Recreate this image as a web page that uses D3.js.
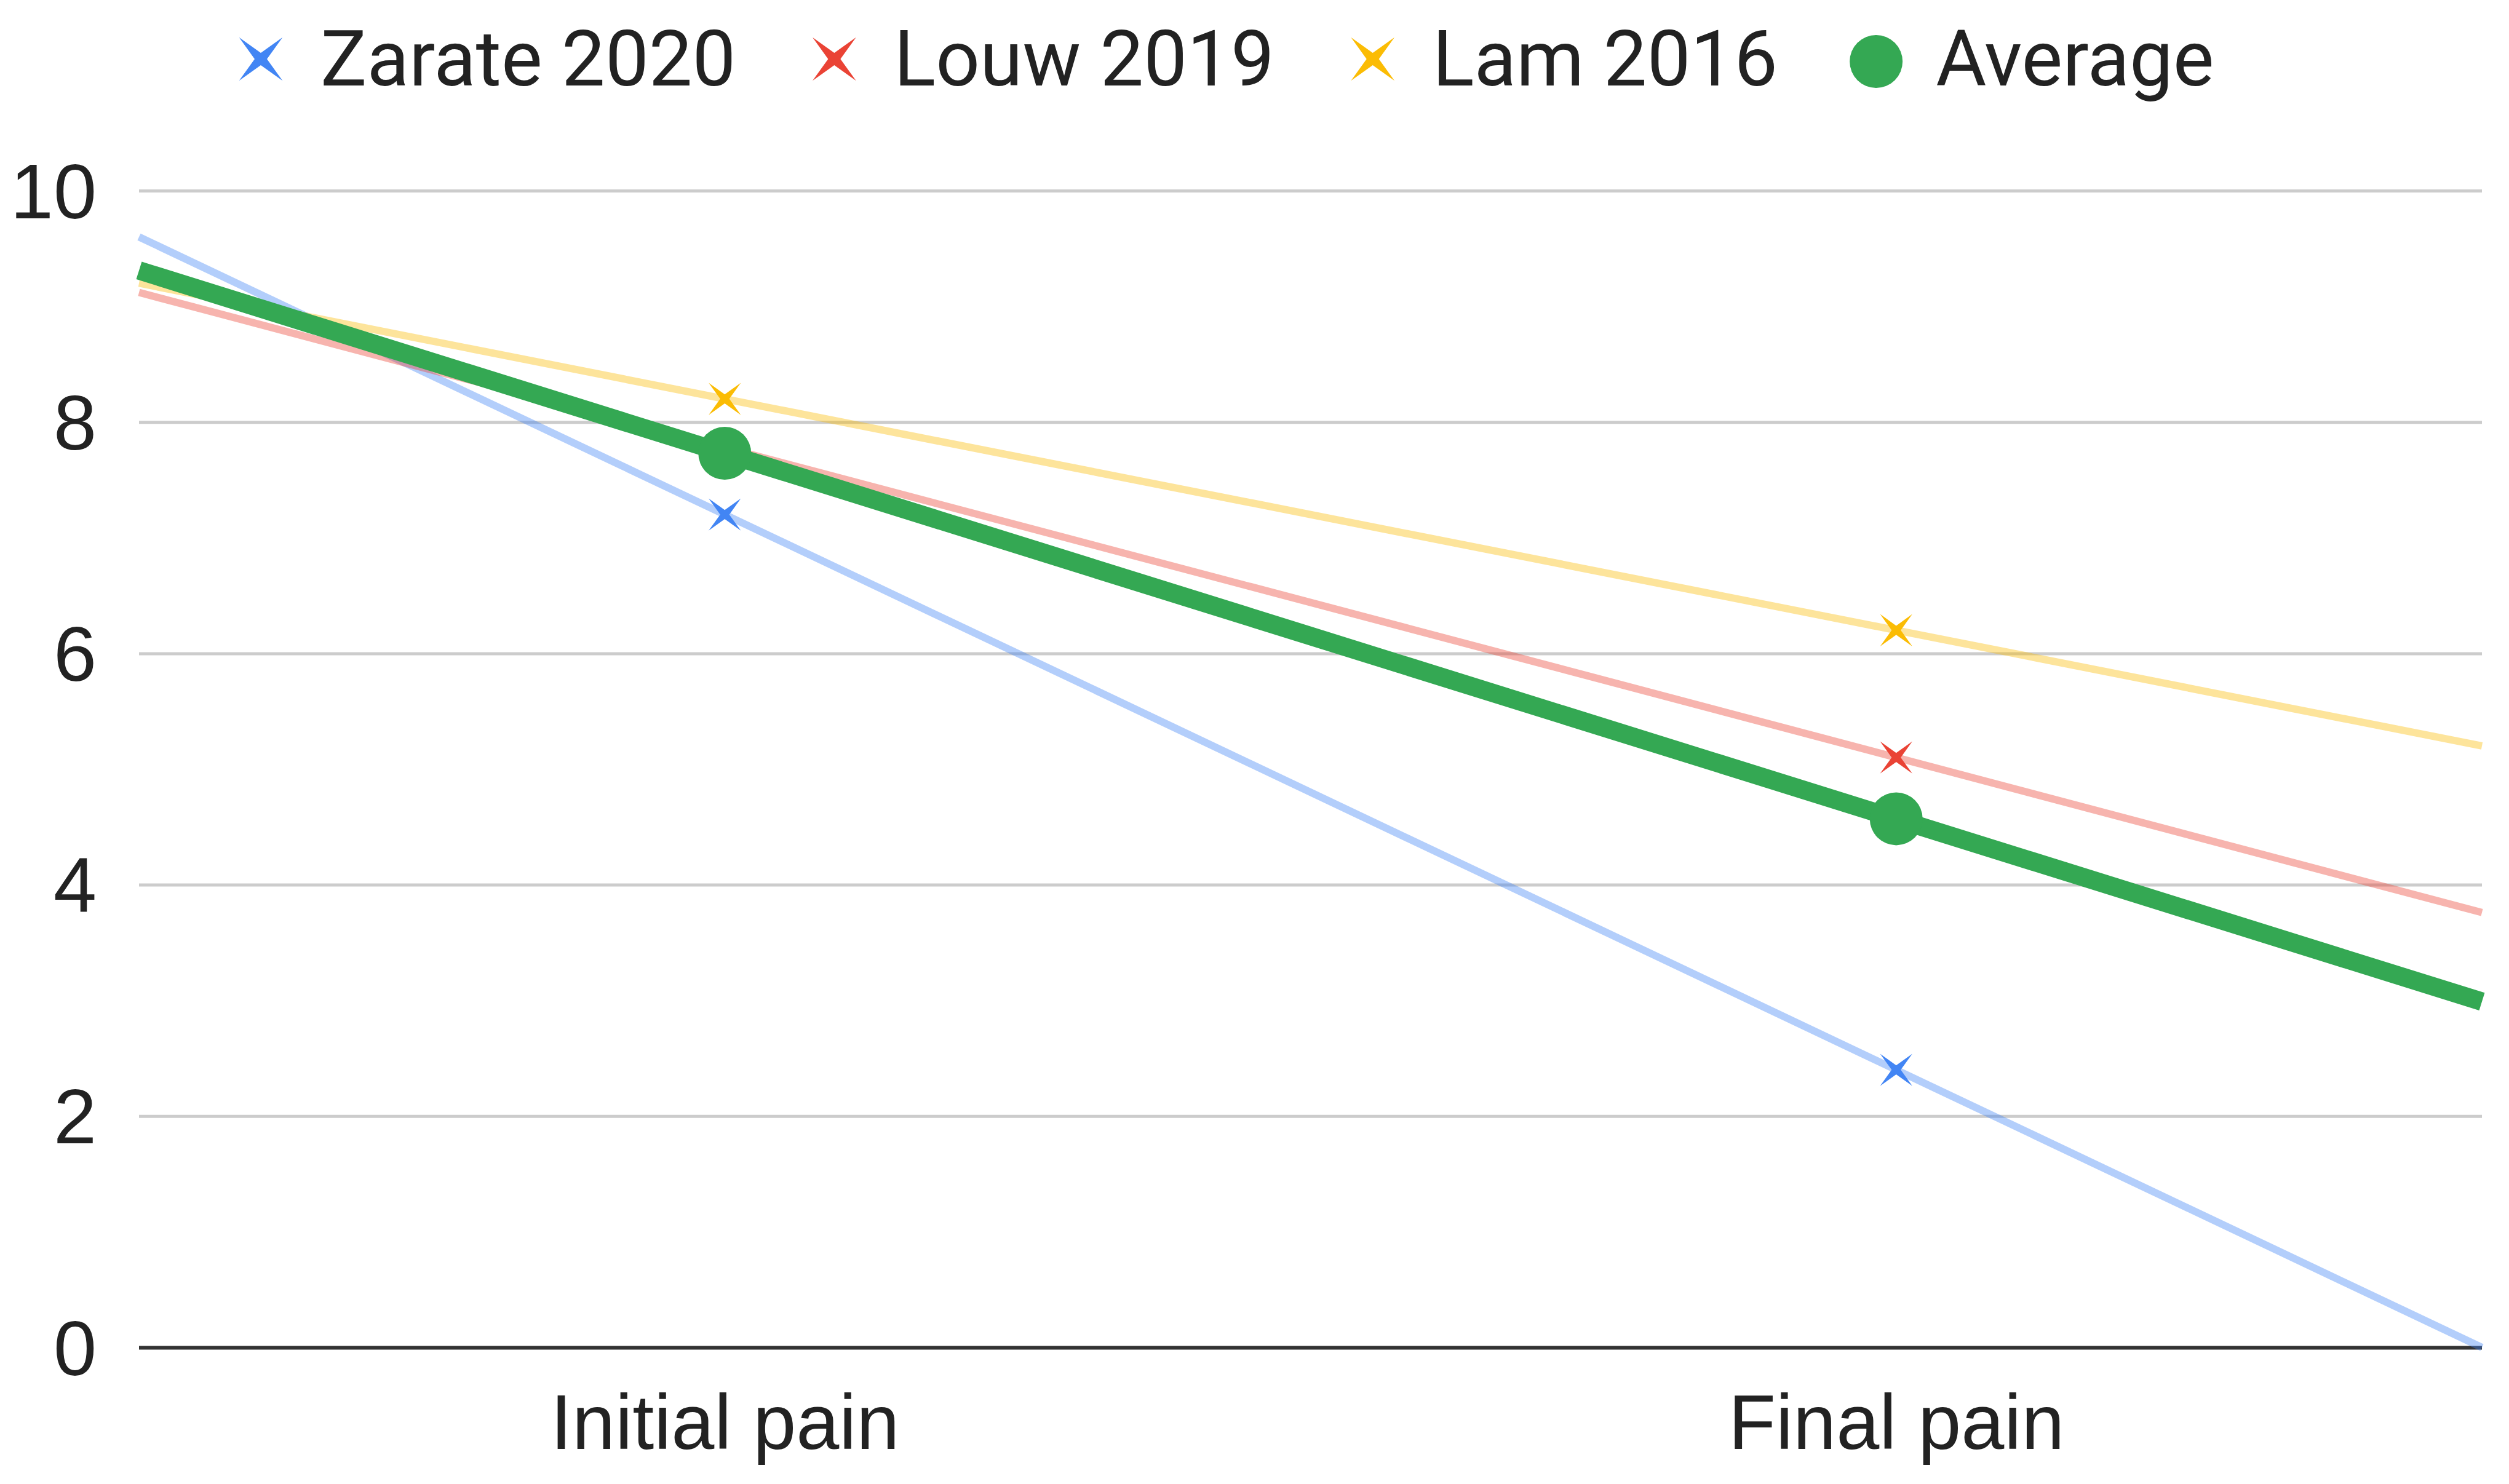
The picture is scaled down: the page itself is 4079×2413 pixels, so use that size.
<!DOCTYPE html>
<html>
<head>
<meta charset="utf-8">
<script src="https://cdn.jsdelivr.net/npm/d3@7"></script>
<style>
  html, body { margin: 0; padding: 0; background: #fff; }
  svg { display: block; font-family: Roboto, Arial, sans-serif; }
</style>
</head>
<body>
<svg id="chart"></svg>
<script>
const W = 4079, H = 2413;

// Data
const categories = ["Initial pain", "Final pain"];
const seriesNames = ["Zarate 2020", "Louw 2019", "Lam 2016", "Average"];
const zarate = [7.2, 2.4];
const louw = [7.78, 5.1];
const lam = [8.2, 6.2];
const average = [7.73, 4.57];
const yTicks = [0, 2, 4, 6, 8, 10];

const colors = {
  "Zarate 2020": "#4285f4",
  "Louw 2019": "#ea4335",
  "Lam 2016": "#fbbc04",
  "Average": "#34a853"
};

const series = [
  { name: "Zarate 2020", values: zarate, type: "star" },
  { name: "Louw 2019", values: louw, type: "star" },
  { name: "Lam 2016", values: lam, type: "star" },
  { name: "Average", values: average, type: "dot" }
];

const plotL = 226, plotR = 4035, plotT = 310, plotB = 2191;
const fontSize = 126;

const svg = d3.select("#chart").attr("width", W).attr("height", H);

// categories sit in the middle of two equal bands
const x = d3.scaleLinear().domain([-0.5, 1.5]).range([plotL, plotR]);
const y = d3.scaleLinear().domain([0, 10]).range([plotB, plotT]);

// 4-pointed star, turned so its points lie on the diagonals
function starPath(R) {
  const r = R * 0.2;
  const pts = [];
  for (let i = 0; i < 8; i++) {
    const a = Math.PI / 4 + i * Math.PI / 4;
    const rad = i % 2 === 0 ? R : r;
    pts.push([Math.cos(a) * rad, Math.sin(a) * rad]);
  }
  return "M" + pts.map(p => p.join(",")).join("L") + "Z";
}

// Gridlines + y labels
const yAxis = svg.append("g")
  .attr("transform", `translate(${plotL},0)`)
  .call(d3.axisLeft(y).tickValues(yTicks).tickSize(-(plotR - plotL)).tickPadding(69).tickFormat(d3.format("d")));
yAxis.select(".domain").remove();
yAxis.selectAll(".tick line").attr("stroke", "#cccccc").attr("stroke-width", 5);
yAxis.selectAll(".tick text").attr("fill", "#222").attr("font-size", fontSize).attr("dy", "0.35em");
yAxis.selectAll(".tick").filter(d => d === 0).select("line").attr("stroke", "#333").attr("stroke-width", 6);

// Category labels
const xAxis = svg.append("g")
  .attr("transform", `translate(0,${plotB})`)
  .call(d3.axisBottom(x).tickValues([0, 1]).tickSize(0).tickPadding(76).tickFormat(i => categories[i]));
xAxis.select(".domain").remove();
xAxis.selectAll(".tick text").attr("fill", "#222").attr("font-size", fontSize);

// Lines run across the full plot width through both points
function extLine(vals) {
  const slope = vals[1] - vals[0];
  return [[-0.5, vals[0] - 0.5 * slope], [1.5, vals[1] + 0.5 * slope]];
}
const line = d3.line().x(d => x(d[0])).y(d => y(d[1]));

svg.append("g")
  .selectAll("path")
  .data(series)
  .join("path")
  .attr("d", d => line(extLine(d.values)))
  .attr("fill", "none")
  .attr("stroke", d => colors[d.name])
  .attr("stroke-opacity", d => d.type === "dot" ? 1 : 0.4)
  .attr("stroke-width", d => d.type === "dot" ? 30 : 12);

// Markers (stars first, average dots on top)
const pts = series.flatMap(s => s.values.map((v, i) => ({ name: s.name, type: s.type, i, v })));
const mk = svg.append("g");
mk.selectAll("path")
  .data(pts.filter(p => p.type === "star"))
  .join("path")
  .attr("transform", d => `translate(${x(d.i)},${y(d.v)})`)
  .attr("d", starPath(37))
  .attr("fill", d => colors[d.name]);
mk.selectAll("circle")
  .data(pts.filter(p => p.type === "dot"))
  .join("circle")
  .attr("cx", d => x(d.i))
  .attr("cy", d => y(d.v))
  .attr("r", 43)
  .attr("fill", d => colors[d.name]);

// Legend
const legend = svg.append("g");
let lx = 424;
const ly = 96;
series.forEach(s => {
  const it = legend.append("g");
  if (s.type === "dot") {
    it.append("circle").attr("cx", lx).attr("cy", ly + 4).attr("r", 43).attr("fill", colors[s.name]);
  } else {
    it.append("path").attr("transform", `translate(${lx},${ly})`).attr("d", starPath(50)).attr("fill", colors[s.name]);
  }
  const t = it.append("text")
    .attr("x", lx + 97)
    .attr("y", ly + 43)
    .attr("font-size", fontSize)
    .attr("fill", "#222")
    .text(s.name);
  lx = lx + 97 + t.node().getComputedTextLength() + 160;
});
</script>
</body>
</html>
